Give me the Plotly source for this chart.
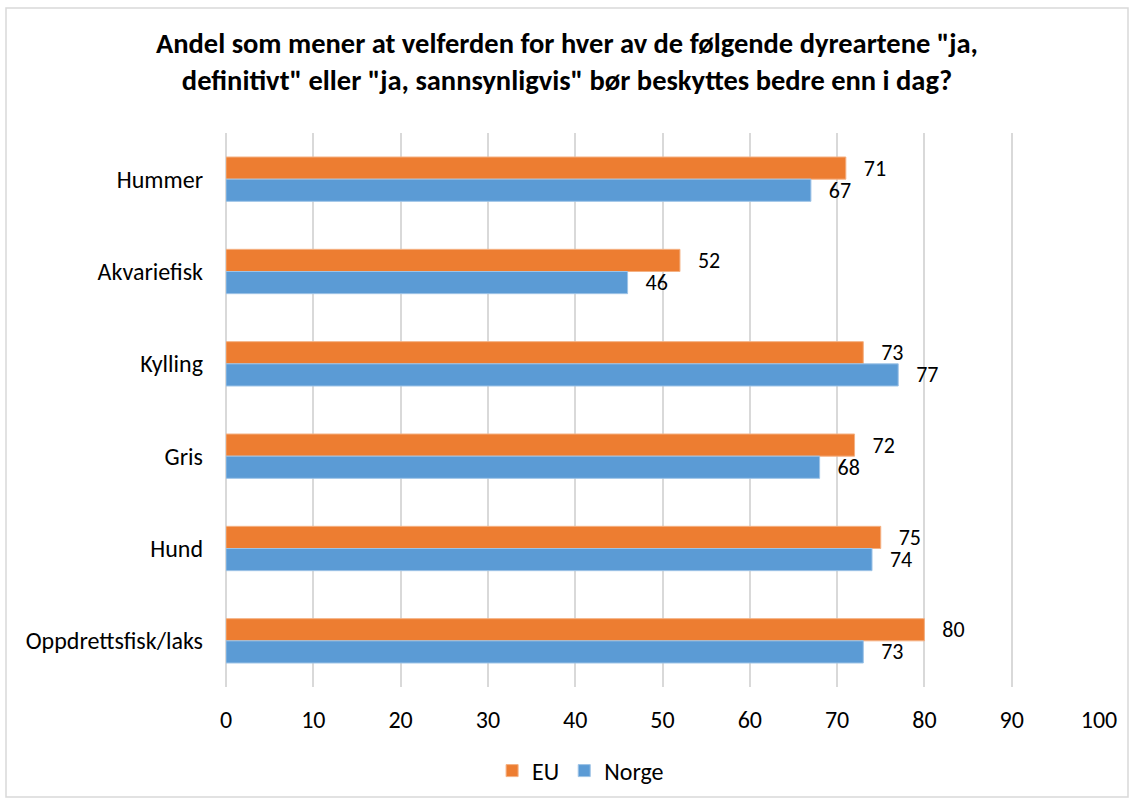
import plotly.graph_objects as go

# data
dyr = ['Hummer', 'Akvariefisk', 'Kylling', 'Gris', 'Hund', 'Oppdrettsfisk/laks']
eu = [71, 52, 73, 72, 75, 80]
norge = [67, 46, 77, 68, 74, 73]

FONT = 'Calibri, Carlito, Liberation Sans, sans-serif'
W, H = 1134, 803
L, R, T, B = 226, 35, 133, 116
PAD = '\u00a0\u00a0\u00a0'  # gap between bar end and label, like excel

fig = go.Figure()
# y axis is reversed, so the first trace sits on top in each group
fig.add_trace(go.Bar(
    y=dyr, x=eu, name='EU', orientation='h',
    marker=dict(color='#ED7D31', line=dict(color='#F4B183', width=1)),
    texttemplate=PAD + '%{x}', textposition='outside', cliponaxis=False, constraintext='none',
    textfont=dict(size=22, color='#000000'), hoverinfo='x+y+name',
))
fig.add_trace(go.Bar(
    y=dyr, x=norge, name='Norge', orientation='h',
    marker=dict(color='#5B9BD5', line=dict(color='#9DC3E6', width=1)),
    texttemplate=PAD + '%{x}', textposition='outside', cliponaxis=False, constraintext='none',
    textfont=dict(size=22, color='#000000'), hoverinfo='x+y+name',
))

pw = W - L - R
ph = H - T - B
fig.add_shape(type='rect', xref='paper', yref='paper',
              x0=(6 - L) / pw, x1=(1128 - L) / pw,
              y0=(H - B - 797) / ph, y1=(H - B - 8) / ph,
              line=dict(color='#D9D9D9', width=1.5), fillcolor='rgba(0,0,0,0)', layer='below')

fig.update_layout(
    width=W, height=H,
    margin=dict(l=L, r=R, t=T, b=B),
    paper_bgcolor='white', plot_bgcolor='white',
    font=dict(family=FONT, size=24, color='#000000'),
    barmode='group', bargap=0.52, bargroupgap=0,
    title=dict(
        text='Andel som mener at velferden for hver av de følgende dyreartene "ja,<br>'
             'definitivt" eller "ja, sannsynligvis" bør beskyttes bedre enn i dag?',
        x=0.5, xref='container', xanchor='center',
        y=1 - 53 / H, yref='container', yanchor='middle',
        font=dict(family=FONT, size=28.5, color='#000000', weight='bold'),
    ),
    legend=dict(
        orientation='h',
        x=0.512, xref='container', xanchor='center',
        y=1 - 771 / H, yref='container', yanchor='middle',
        font=dict(size=24), itemwidth=30,
    ),
    showlegend=True,
)
fig.update_xaxes(range=[0, 100], dtick=10, showgrid=True, gridcolor='#D9D9D9', gridwidth=1.5,
                 zeroline=True, zerolinecolor='#D9D9D9', zerolinewidth=1.5, automargin=False,
                 showline=False, ticks='', tickfont=dict(size=24), ticklabelstandoff=16)
fig.update_yaxes(autorange='reversed', showgrid=False, showline=False, ticks='', automargin=False,
                 tickfont=dict(size=24), ticklabelstandoff=22)

# page body has an 8px default margin, drop it so the figure sits at 0,0
fig.write_html('out.html', config={'displayModeBar': False},
               post_script="document.body.style.margin='0';")
